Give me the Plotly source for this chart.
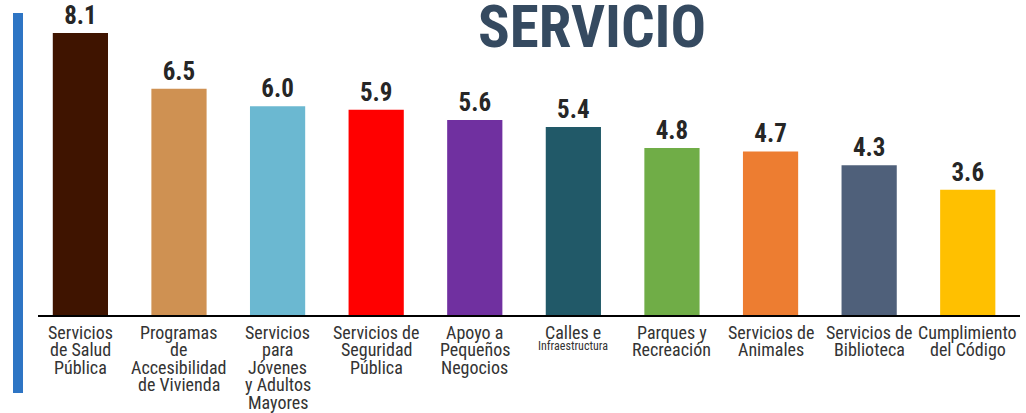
import plotly.graph_objects as go

categories = [
    ["Servicios", "de Salud", "Pública"],
    ["Programas", "de", "Accesibilidad", "de Vivienda"],
    ["Servicios", "para", "Jóvenes", "y Adultos", "Mayores"],
    ["Servicios de", "Seguridad", "Pública"],
    ["Apoyo a", "Pequeños", "Negocios"],
    ["Calles e", "Infraestructura"],
    ["Parques y", "Recreación"],
    ["Servicios de", "Animales"],
    ["Servicios de", "Biblioteca"],
    ["Cumplimiento", "del Código"],
]
small_lines = {"Infraestructura"}
values = [8.1, 6.5, 6.0, 5.9, 5.6, 5.4, 4.8, 4.7, 4.3, 3.6]
labels = ["8.1", "6.5", "6.0", "5.9", "5.6", "5.4", "4.8", "4.7", "4.3", "3.6"]
colors = ["#3f1400", "#cf9152", "#6bb8d1", "#ff0000", "#7030a0",
          "#215968", "#70ad47", "#ed7d31", "#4f607a", "#ffc000"]
title = "SERVICIO"

FONT = "Roboto Condensed, Roboto, sans-serif"
xs = list(range(len(categories)))

PW = 982   # plot width  (x 38 .. 1020)
PH = 315   # plot height (y 0 .. 315)

fig = go.Figure(go.Bar(
    x=xs, y=values, marker=dict(color=colors, line=dict(width=0)),
    width=0.56,
    text=labels, textposition="outside",
    textfont=dict(family=FONT, size=25, color="#262626", weight="bold"),
    cliponaxis=False,
    hoverinfo="skip",
))

annotations = [dict(text=f"<b>{title}</b>", xref="paper", yref="paper",
                    x=(592 - 38) / PW, y=1 - 26 / PH, xanchor="center", yanchor="middle",
                    showarrow=False,
                    font=dict(family=FONT, size=59, color="#354a60"))]

for xi, lines in zip(xs, categories):
    shift = -17
    for j, line in enumerate(lines):
        small = line in small_lines
        if j > 0:
            shift -= 14 if small else 17.5
        annotations.append(dict(
            text=line, x=xi, y=0, xref="x", yref="y",
            xanchor="center", yanchor="middle", yshift=shift,
            showarrow=False,
            font=dict(family=FONT, size=12 if small else 18, color="#333333"),
        ))

fig.update_layout(
    width=1026, height=413,
    margin=dict(l=38, r=6, t=0, b=98, autoexpand=False),
    paper_bgcolor="white", plot_bgcolor="white",
    showlegend=False,
    xaxis=dict(
        range=[-0.43, 9.53], automargin=False,
        showticklabels=False,
        showline=True, linecolor="black", linewidth=2,
        ticks="", showgrid=False, zeroline=False,
    ),
    yaxis=dict(range=[0, PH / 34.8], visible=False, showgrid=False, zeroline=False,
               automargin=False),
    shapes=[dict(type="rect", xref="paper", yref="paper",
                 x0=-25 / PW, x1=-15 / PW, y0=(PH - 393) / PH, y1=(PH - 13) / PH,
                 fillcolor="#2e75c4", line=dict(width=0))],
    annotations=annotations,
)

fig.write_html("out.html",
               config={"displayModeBar": False},
               post_script="document.body.style.margin='0';document.body.style.overflow='hidden';")
